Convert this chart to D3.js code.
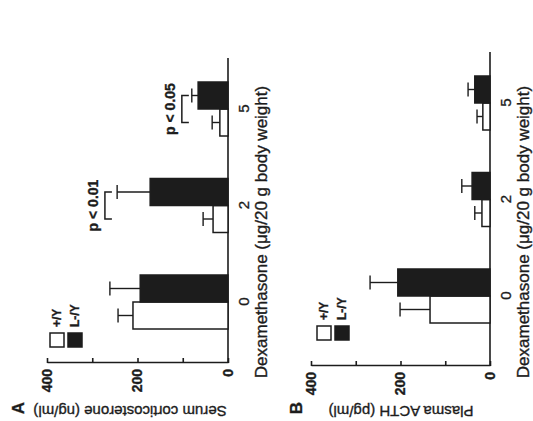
<!DOCTYPE html>
<html><head><meta charset="utf-8">
<script src="https://cdn.jsdelivr.net/npm/d3@7"></script>
<style>
body{margin:0;background:#fff}
text{font-family:"Liberation Sans",Arial,Helvetica,sans-serif;fill:#1c1c1c;stroke:#1c1c1c;stroke-width:0.35px}
</style>
</head><body>
<svg id="c" width="533" height="421"></svg>
<script>
// ---- data ----
const doses = ["0", "2", "5"];
const groups = ["+/Y", "L-/Y"];
const valueTicks = [0, 100, 200, 300, 400];
const valueTickLabels = [0, 200, 400];

const corticoWT = [210, 33, 18];
const corticoWTErr = [33, 22, 17];
const corticoL = [194, 172, 66];
const corticoLErr = [67, 73, 14];

const acthWT = [134, 18, 16];
const acthWTErr = [67, 16, 13];
const acthL = [206, 40, 34];
const acthLErr = [62, 23, 15];

const corticoSigText = ["", "p < 0.01", "p < 0.05"];
const corticoSigLevel = [null, 272, 102];

// ---- layout (figure drawn upright, then turned a quarter turn) ----
const FW = 421; // upright width (becomes screen height)
const svg = d3.select("#c");
const root = svg.append("g").attr("transform", `translate(0,${FW}) rotate(-90)`);
const ink = "#1c1c1c";
const fam = '"Liberation Sans",Arial,sans-serif';

const panels = [
  { letter: "A", title: "Serum corticosterone (ng/ml)",
    wt: corticoWT, wtErr: corticoWTErr, ko: corticoL, koErr: corticoLErr,
    sigText: corticoSigText, sigLevel: corticoSigLevel,
    axisX: 58, baseEnd: 363, c0: 119, c1: 312, y0: 228, y400: 47,
    legX: 74, legY: 50, titleY: 130, letterPos: [13, 18] },
  { letter: "B", title: "Plasma ACTH (pg/ml)",
    wt: acthWT, wtErr: acthWTErr, ko: acthL, koErr: acthLErr,
    sigText: null, sigLevel: null,
    axisX: 55, baseEnd: 369, c0: 125, c1: 318, y0: 490, y400: 311,
    legX: 81, legY: 317, titleY: 401, letterPos: [13, 296] }
];

const barW = 27;

panels.forEach(p => {
  const g = root.append("g");
  const y = d3.scaleLinear().domain([0, 400]).range([p.y0, p.y400]);
  const x = d3.scalePoint().domain(doses).range([p.c0, p.c1]);
  const sub = d3.scaleBand().domain(groups).range([-barW, barW]).padding(0);

  // value axis
  const ya = g.append("g").attr("transform", `translate(${p.axisX},0)`)
    .call(d3.axisLeft(y).tickValues(valueTicks).tickSize(-5).tickSizeOuter(0).tickPadding(6)
      .tickFormat(d => valueTickLabels.includes(d) ? d : ""));
  ya.selectAll("path,line").attr("stroke", ink).attr("stroke-width", 1.6);
  ya.selectAll("text").attr("font-size", 14).attr("fill", ink).attr("font-weight", "bold")
    .style("font-family", fam);

  // category axis labels
  const xa = g.append("g").attr("transform", `translate(0,${p.y0})`)
    .call(d3.axisBottom(x).tickSize(0).tickPadding(10));
  xa.select(".domain").remove();
  xa.selectAll("text").attr("font-size", 15).attr("fill", ink)
    .style("font-family", fam);

  // baseline
  g.append("line").attr("x1", p.axisX).attr("x2", p.baseEnd)
    .attr("y1", y(0)).attr("y2", y(0)).attr("stroke", ink).attr("stroke-width", 1.6);

  // bars
  const rows = [];
  doses.forEach((d, i) => {
    rows.push({ d, grp: groups[0], v: p.wt[i], e: p.wtErr[i] });
    rows.push({ d, grp: groups[1], v: p.ko[i], e: p.koErr[i] });
  });
  rows.forEach(r => {
    const bx = x(r.d) + sub(r.grp);
    const cx = bx + sub.bandwidth() / 2;
    g.append("line").attr("x1", cx).attr("x2", cx).attr("y1", y(r.v)).attr("y2", y(r.v + r.e))
      .attr("stroke", ink).attr("stroke-width", 1.4);
    g.append("line").attr("x1", cx - 7).attr("x2", cx + 7).attr("y1", y(r.v + r.e)).attr("y2", y(r.v + r.e))
      .attr("stroke", ink).attr("stroke-width", 1.4);
    g.append("rect").attr("x", bx).attr("width", sub.bandwidth())
      .attr("y", y(r.v)).attr("height", y(0) - y(r.v))
      .attr("fill", r.grp === groups[0] ? "#fff" : ink)
      .attr("stroke", ink).attr("stroke-width", 1.5);
  });

  // significance brackets
  if (p.sigText) {
    doses.forEach((d, i) => {
      if (!p.sigText[i]) return;
      const xa1 = x(d) + sub(groups[0]) + sub.bandwidth() / 2;
      const xa2 = x(d) + sub(groups[1]) + sub.bandwidth() / 2;
      const ly = y(p.sigLevel[i]);
      g.append("path").attr("d", `M${xa1},${ly + 7}V${ly}H${xa2}V${ly + 7}`)
        .attr("fill", "none").attr("stroke", ink).attr("stroke-width", 1.5);
      g.append("text").attr("x", (xa1 + xa2) / 2).attr("y", ly - 7)
        .attr("text-anchor", "middle").attr("font-size", 14).attr("font-weight", "bold").text(p.sigText[i]);
    });
  }

  // legend
  groups.forEach((grp, k) => {
    g.append("rect").attr("x", p.legX).attr("y", p.legY + k * 18).attr("width", 14).attr("height", 14)
      .attr("fill", k === 0 ? "#fff" : ink).attr("stroke", ink).attr("stroke-width", 1.5);
    g.append("text").attr("x", p.legX + 20).attr("y", p.legY + k * 18 + 7).attr("dy", "0.35em")
      .attr("font-size", 12).attr("font-weight", "bold").text(grp);
  });

  // axis titles
  g.append("text").attr("transform", `translate(10,${p.titleY}) rotate(-90)`)
    .attr("text-anchor", "middle").attr("dy", "0.35em").attr("font-size", 15).text(p.title);
  g.append("text").attr("x", 189).attr("y", p.y0 + 39)
    .attr("text-anchor", "middle").attr("font-size", 17).text("Dexamethasone (\u03bcg/20 g body weight)");
  g.append("text").attr("x", p.letterPos[0]).attr("y", p.letterPos[1]).attr("dy", "0.35em")
    .attr("text-anchor", "middle").attr("font-size", 17).attr("font-weight", "bold").text(p.letter);
});
</script>
</body></html>
